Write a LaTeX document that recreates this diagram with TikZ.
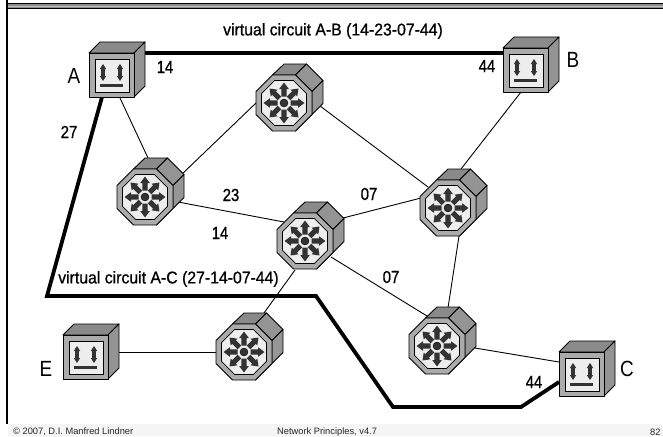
\documentclass[tikz,border=0pt]{standalone}
\usepackage{fontspec}
\setmainfont{Liberation Sans}
\newfontfamily\narrowfont[FakeStretch=0.86]{Liberation Sans}
\newfontfamily\narrowmed[FakeStretch=0.93,FakeBold=0.8]{Liberation Sans}
\newfontfamily\digitmed[FakeStretch=0.85,FakeBold=0.8]{Liberation Sans}
\usetikzlibrary{calc}
\definecolor{facefront}{HTML}{ABABAB}
\definecolor{facetop}{HTML}{8A8A8A}
\definecolor{faceside}{HTML}{949494}
\definecolor{facein}{HTML}{EDEDED}
\definecolor{glyph}{HTML}{333333}
\tikzset{
  x=1pt,y=-1pt,
  thinlink/.style={draw=black,line width=0.9pt},
  boldlink/.style={draw=black,line width=3.8pt,line join=miter},
  edge3d/.style={draw=black,line width=0.9pt,line join=round},
  lab/.style={font=\narrowmed\fontsize{17}{19}\selectfont,inner sep=0pt,text=black},
  num/.style={font=\digitmed\fontsize{17.5}{19}\selectfont,inner sep=0pt,text=black},
  letter/.style={font=\narrowfont\fontsize{22}{24}\selectfont,inner sep=0pt,text=black},
  foot/.style={font=\fontsize{9.3}{10}\selectfont,inner sep=0pt,text=black!85,anchor=west},
  pics/boxdev/.style={code={
    \path[edge3d,fill=facetop] (0,0)--(11,-11)--(56,-11)--(45,0)--cycle;
    \path[edge3d,fill=faceside] (45,0)--(56,-11)--(56,33)--(45,44)--cycle;
    \path[edge3d,fill=facefront] (0,0) rectangle (45,44);
    \path[draw=black,line width=0.7pt,fill=facein] (6,6) rectangle (40,39);
    \foreach \ax in {14,31}{
      \path[fill=glyph] (\ax,11)--(\ax+3.2,16)--(\ax+1.8,16)--(\ax+1.8,23)--(\ax+3.2,23)--(\ax,28)--(\ax-3.2,23)--(\ax-1.8,23)--(\ax-1.8,16)--(\ax-3.2,16)--cycle;
    }
    \path[fill=glyph] (11,30.5) rectangle (34,34);
  }},
  pics/routerdev/.style={code={
    \path[edge3d,fill=facetop] (-11.5,-28)--(0,-39)--(22.5,-39)--(11.5,-28)--cycle;
    \path[edge3d,fill=faceside] (11.5,-28)--(22.5,-39)--(39,-22.5)--(28,-11.5)--cycle;
    \path[edge3d,fill=facetop!90!white] (28,-11.5)--(39,-22.5)--(39,0.5)--(11.5,28)--(28,11.5)--cycle;
    \path[edge3d,fill=facefront] (-11.5,-28)--(11.5,-28)--(28,-11.5)--(28,11.5)--(11.5,28)--(-11.5,28)--(-28,11.5)--(-28,-11.5)--cycle;
    \path[draw=black,line width=0.7pt,fill=facein] (-9.3,-22.5)--(9.3,-22.5)--(22.5,-9.3)--(22.5,9.3)--(9.3,22.5)--(-9.3,22.5)--(-22.5,9.3)--(-22.5,-9.3)--cycle;
    \foreach \ang in {0,45,...,315}{
      \path[fill=glyph,rotate=\ang] (6.5,-2.6)--(14,-2.6)--(14,-4.8)--(20.5,0)--(14,4.8)--(14,2.6)--(6.5,2.6)--cycle;
    }
    \path[fill=glyph,draw=black,line width=0.4pt] (0,0) circle (4);
  }},
}
\begin{document}
\begin{tikzpicture}
\useasboundingbox (0,0) rectangle (663,436);
\fill[white] (0,0) rectangle (663,436);
\fill[black!4] (8,424) rectangle (663,436);
\fill[black!45] (6,4) rectangle (663,9);
\fill[black!25] (6,6) rectangle (663,7);
\draw[black,line width=1pt] (6,3.5) -- (663,3.5);
\draw[black,line width=1pt] (6,9) -- (663,9);
\draw[black,line width=1.6pt] (7,0) -- (7,424);

\coordinate (A) at (89,53);
\coordinate (B) at (503,48);
\coordinate (C) at (559,352);
\coordinate (E) at (63,335);
\coordinate (R1) at (145,197);
\coordinate (R2) at (284,103);
\coordinate (R3) at (448,208);
\coordinate (R4) at (305,241);
\coordinate (R5) at (437,346);
\coordinate (R6) at (244,352);

\draw[thinlink] ($(A)+(31,45)$) -- ($(R1)+(3,-39)$);
\draw[thinlink] ($(R1)+(35,-21)$) -- ($(R2)+(-28,0)$);
\draw[thinlink] ($(R1)+(33,5)$) -- ($(R4)+(-21,-19)$);
\draw[thinlink] ($(R2)+(36,3)$) -- ($(R3)+(-20,-21)$);
\draw[thinlink] ($(B)+(18,44)$) -- ($(R3)+(13,-39)$);
\draw[thinlink] ($(R4)+(38,-23)$) -- ($(R3)+(-27,-10)$);
\draw[thinlink] ($(R4)+(26,16)$) -- ($(R5)+(-10,-30)$);
\draw[thinlink] ($(R4)+(-10,29)$) -- ($(R6)+(20,-39)$);
\draw[thinlink] ($(R3)+(11,28)$) -- ($(R5)+(11,-38)$);
\draw[thinlink] ($(R5)+(38,2)$) -- ($(C)+(0,10)$);
\draw[thinlink] ($(E)+(54,17)$) -- ($(R6)+(-28,0)$);
\draw[boldlink] ($(A)+(56,0)$) -- ($(B)+(0,5)$);
\draw[boldlink] ($(A)+(13,44)$) -- (47,296) -- (316,296) -- (393,407) -- (521,407) -- ($(C)+(0,30)$);

\pic at (A) {boxdev};
\pic at (B) {boxdev};
\pic at (C) {boxdev};
\pic at (E) {boxdev};
\pic at (R1) {routerdev};
\pic at (R2) {routerdev};
\pic at (R3) {routerdev};
\pic at (R4) {routerdev};
\pic at (R5) {routerdev};
\pic at (R6) {routerdev};

\node[lab] (t1) at (333,31) {virtual circuit A-B (14-23-07-44)};
\node[lab] (t2) at (168.5,279) {virtual circuit A-C (27-14-07-44)};
\node[num] (l1) at (165,67) {14};
\node[num] (l2) at (487,66) {44};
\node[num] (l3) at (69,132) {27};
\node[num] (l4) at (231,195) {23};
\node[num] (l5) at (220,233) {14};
\node[num] (l6) at (369,194) {07};
\node[num] (l7) at (391,277) {07};
\node[num] (l8) at (534,382) {44};
\node[letter] (na) at (74,76) {A};
\node[letter] (nb) at (573,60) {B};
\node[letter] (nc) at (627,369) {C};
\node[letter] (ne) at (46,369) {E};
\node[foot] (f1) at (13,432) {© 2007, D.I. Manfred Lindner};
\node[foot] (f2) at (277,432) {Network Principles, v4.7};
\node[foot] (f3) at (650,432) {82};
\end{tikzpicture}
\end{document}
